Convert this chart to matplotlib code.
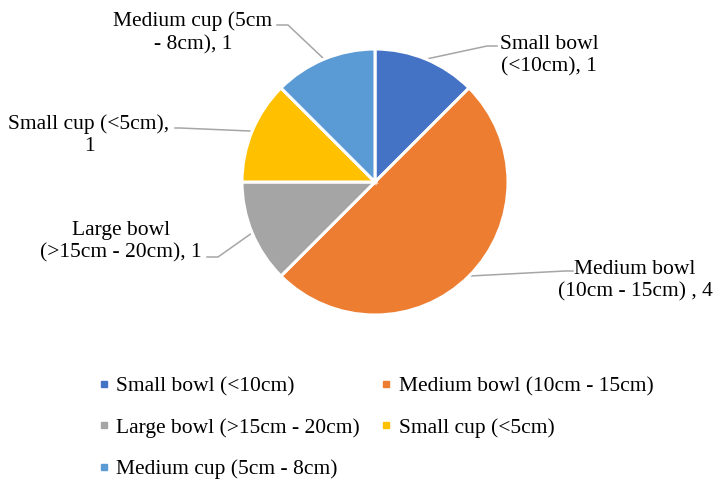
import matplotlib.pyplot as plt
import numpy as np
from matplotlib.lines import Line2D

plt.rcParams['font.family'] = ['Liberation Serif', 'DejaVu Serif']

categories = ["Small bowl (<10cm)", "Medium bowl (10cm - 15cm)",
              "Large bowl (>15cm - 20cm)", "Small cup (<5cm)", "Medium cup (5cm - 8cm)"]
counts = [1, 4, 1, 1, 1]
slice_labels = ["Small bowl\n(<10cm), 1", "Medium bowl\n(10cm - 15cm) , 4",
                "Large bowl\n(>15cm - 20cm), 1", "Small cup (<5cm),\n1",
                "Medium cup (5cm\n- 8cm), 1"]
colors = ["#4472C4", "#ED7D31", "#A5A5A5", "#FFC000", "#5B9BD5"]

W, H = 714, 479
fig = plt.figure(figsize=(W / 100, H / 100), dpi=100)
ax = fig.add_axes([0, 0, 1, 1])

cx, cy, r = 375, H - 182, 133
wedges, _ = ax.pie(counts, colors=colors, startangle=90, counterclock=False,
                   center=(cx, cy), radius=r, frame=False,
                   wedgeprops=dict(edgecolor="white", linewidth=2.2))
ax.set_xlim(0, W)
ax.set_ylim(0, H)
ax.set_aspect("equal")
ax.axis("off")

# label block centre, elbow and end of leader line (pixel coords, y down)
label_pos = [(549, 56), (635, 281), (121, 242), (89, 135), (193, 33)]
elbows = [(487, 46), (565, 271), (218, 257), (180, 128), (288, 25)]
ends = [(497, 46), (573, 271), (207, 257), (175, 128), (277, 25)]

for w, lab, (tx, ty), (ex, ey), (fx, fy) in zip(wedges, slice_labels, label_pos, elbows, ends):
    ang = np.deg2rad((w.theta1 + w.theta2) / 2)
    sx, sy = cx + r * np.cos(ang), cy + r * np.sin(ang)
    ax.plot([sx, ex, fx], [sy, H - ey, H - fy], color="#A6A6A6", lw=1.1,
            clip_on=False, zorder=0)
    ax.text(tx, H - ty, lab, ha="center", va="center", fontsize=15.5,
            linespacing=1.25, color="black")

handles = [Line2D([], [], marker="s", linestyle="none", markersize=5,
                  markerfacecolor=c, markeredgecolor=c) for c in colors]
order = [0, 2, 4, 1, 3]
fig.legend([handles[i] for i in order], [categories[i] for i in order],
           ncol=2, loc="upper left", bbox_to_anchor=(99 / W, 1 - 376 / H),
           frameon=False, fontsize=15.5, handlelength=0.45, handletextpad=0.35,
           labelspacing=1.0, columnspacing=1.0, borderaxespad=0, borderpad=0)

fig.savefig("out.png", dpi=100)
